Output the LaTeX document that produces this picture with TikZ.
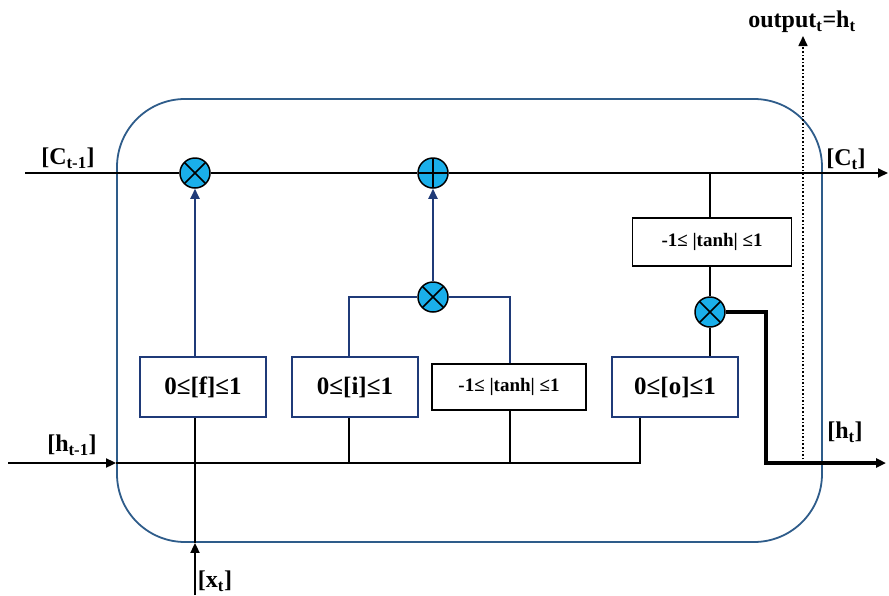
\documentclass[tikz,border=0pt]{standalone}
\usepackage{fontspec}
\setmainfont{Liberation Serif}
\usetikzlibrary{arrows.meta}

\definecolor{cellframe}{HTML}{2E5C8A}
\definecolor{gatenavy}{HTML}{1F3A78}
\definecolor{opfill}{HTML}{1AAFEA}

\tikzset{
  main/.style={draw=black, line width=1.8pt},
  thickout/.style={draw=black, line width=3.4pt},
  blueline/.style={draw=gatenavy, line width=1.8pt},
  tip/.style={-{Triangle[length=10pt,width=9pt]}},
  gatebox/.style={draw=gatenavy, line width=1.6pt, fill=white, minimum width=126pt,
    minimum height=60pt, inner sep=0pt, font=\fontsize{25}{27}\selectfont\bfseries},
  tanhbox/.style={draw=black, line width=1.1pt, fill=white, minimum width=154pt,
    minimum height=46pt, inner sep=0pt, font=\fontsize{19}{21}\selectfont\bfseries},
  op/.style={circle, draw=black, line width=1.5pt, fill=opfill, minimum size=30pt, inner sep=0pt},
  mult/.style={op, path picture={
    \draw[line width=1.5pt] (path picture bounding box.north west) -- (path picture bounding box.south east)
      (path picture bounding box.north east) -- (path picture bounding box.south west);}},
  plus/.style={op, path picture={
    \draw[line width=1.5pt] (path picture bounding box.north) -- (path picture bounding box.south)
      (path picture bounding box.west) -- (path picture bounding box.east);}},
  lbl/.style={inner sep=0pt, font=\fontsize{24}{26}\selectfont\bfseries},
}

\begin{document}
\begin{tikzpicture}[x=1pt, y=-1pt]
\useasboundingbox (0,0) rectangle (889,595);

% cell frame
\node[draw=cellframe, line width=1.8pt, rounded corners=68pt, minimum width=705pt,
  minimum height=443pt, inner sep=0pt] (cell) at (469.5,320.5) {};

% pointwise operations
\node[mult] (fmul) at (195,173) {};
\node[plus] (add) at (433,173) {};
\node[mult] (imul) at (433,297) {};
\node[mult] (omul) at (710,312) {};

% gates
\node[gatebox] (fgate) at (203,387) {0≤[f]≤1};
\node[gatebox] (igate) at (355,387) {0≤[i]≤1};
\node[tanhbox] (cgate) at (509,387) {-1≤ |tanh| ≤1};
\node[gatebox] (ogate) at (675,387) {0≤[o]≤1};
\node[tanhbox, minimum width=159pt, minimum height=48pt] (ctanh) at (712,242) {-1≤ |tanh| ≤1};

% bus coordinates
\coordinate (cin) at (25,173);
\coordinate (cout) at (888,173);
\coordinate (hin) at (8,463);
\coordinate (ibus) at (349,463);
\coordinate (tbus) at (510,463);
\coordinate (hbus) at (640,463);
\coordinate (xin) at (195,595);
\coordinate (hcorner) at (766,463);
\coordinate (hout) at (886,463);
\coordinate (dbot) at (803,463);
\coordinate (dtop) at (803,36);

% cell state line
\draw[main] (cin) -- (fmul.west);
\draw[main] (fmul.east) -- (add.west);
\draw[main, tip] (add.east) -- (cout);

% hidden state and input bus
\draw[main, tip] (hin) -- (cell.west |- hin);
\draw[main] (cell.west |- hin) -- (hbus) -- (hbus |- ogate.south);
\draw[main] (ibus) -- (ibus |- igate.south);
\draw[main] (tbus) -- (tbus |- cgate.south);
\draw[main, tip] (xin) -- (cell.south -| xin);
\draw[main] (cell.south -| xin) -- (fgate.south -| xin);

% gate outputs
\draw[blueline, tip] (fgate.north -| fmul) -- (fmul.south);
\draw[blueline] (igate.north -| ibus) |- (imul.west);
\draw[blueline] (cgate.north -| tbus) |- (imul.east);
\draw[blueline, tip] (imul.north) -- (add.south);

% output path
\draw[main] (add.east -| omul) -- (ctanh.north -| omul);
\draw[main] (ctanh.south -| omul) -- (omul.north);
\draw[main] (omul.south) -- (ogate.north -| omul);
\draw[thickout, tip] (omul.east) -| (hcorner) -- (hout);
\draw[black, line width=1.6pt, dotted, tip] (dbot) -- (dtop);

% labels
\node[lbl] (lcprev) at (68,158) {[C\textsubscript{t-1}]};
\node[lbl] (lcnext) at (846,159) {[C\textsubscript{t}]};
\node[lbl] (lhprev) at (72,445) {[h\textsubscript{t-1}]};
\node[lbl] (lhnext) at (845,432) {[h\textsubscript{t}]};
\node[lbl] (lx) at (215,581) {[x\textsubscript{t}]};
\node[lbl] (lout) at (802,22) {output\textsubscript{t}=h\textsubscript{t}};
\end{tikzpicture}
\end{document}
